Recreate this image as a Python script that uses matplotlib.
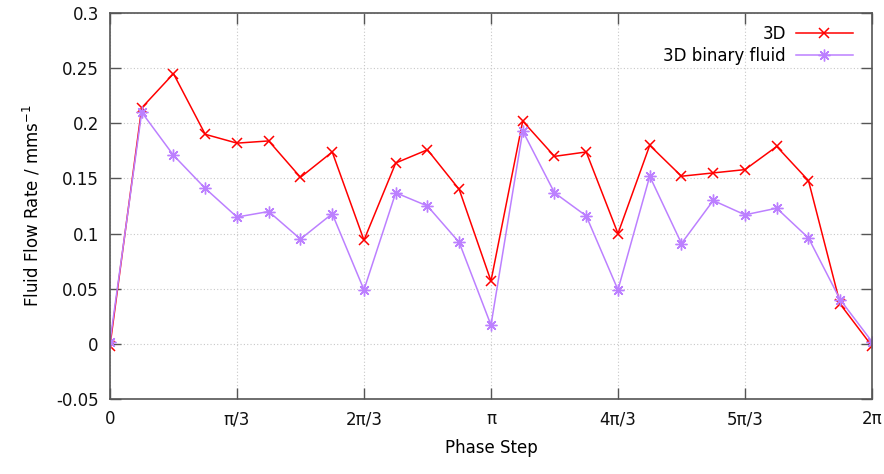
import numpy as np
import matplotlib.pyplot as plt

plt.rcParams['font.family'] = ['DejaVu Sans']
plt.rcParams['font.size'] = 12

# phase step index (in units of pi/12)
steps = list(range(25))
flow_3d = [-0.002, 0.214, 0.245, 0.190, 0.182, 0.184, 0.151, 0.174, 0.094, 0.164,
           0.176, 0.140, 0.057, 0.202, 0.170, 0.174, 0.100, 0.180, 0.152, 0.155,
           0.158, 0.179, 0.148, 0.036, -0.002]
flow_binary = [0.002, 0.210, 0.171, 0.141, 0.115, 0.120, 0.095, 0.118, 0.049, 0.137,
               0.125, 0.092, 0.017, 0.193, 0.137, 0.116, 0.049, 0.152, 0.091, 0.130,
               0.117, 0.123, 0.096, 0.040, 0.002]
tick_labels = ['0', 'π/3', '2π/3', 'π', '4π/3', '5π/3', '2π']

x = np.array(steps) * np.pi / 12

fig = plt.figure(figsize=(8.84, 4.74), dpi=100)
ax = fig.add_axes([0.1244, 0.1582, 0.862, 0.8144])

ax.plot(x, flow_3d, color='#ff0000', lw=1.1, marker='x', ms=7.5, mew=1.1, label='3D')
ax.plot(x, flow_binary, color='#bc80ff', lw=1.1, marker=(8, 2, 0), ms=8.5, mew=1.0,
        label='3D binary fluid')

ax.set_xlim(0, 2 * np.pi)
ax.set_ylim(-0.05, 0.3)
ax.set_xticks(np.arange(7) * np.pi / 3)
ax.set_xticklabels(tick_labels)
ax.set_yticks([-0.05, 0, 0.05, 0.1, 0.15, 0.2, 0.25, 0.3])
ax.set_yticklabels(['-0.05', '0', '0.05', '0.1', '0.15', '0.2', '0.25', '0.3'])

ax.grid(True, color='#c8c8c8', ls=(0, (1, 2)), lw=0.8)
ax.tick_params(direction='in', length=8, width=1, color='#555555',
               top=True, right=True, pad=8, labelcolor='#111111')
for s in ax.spines.values():
    s.set_color('#555555')
    s.set_linewidth(1.2)

ax.set_xlabel('Phase Step', labelpad=8)
ax.set_ylabel('Fluid Flow Rate / mms$^{-1}$', labelpad=10)

ax.legend(loc='upper right', bbox_to_anchor=(0.99, 1.0), frameon=False,
          markerfirst=False, handlelength=3.4, borderaxespad=0.3,
          labelspacing=0.25, handletextpad=0.6)

fig.savefig('out.png', dpi=100)
